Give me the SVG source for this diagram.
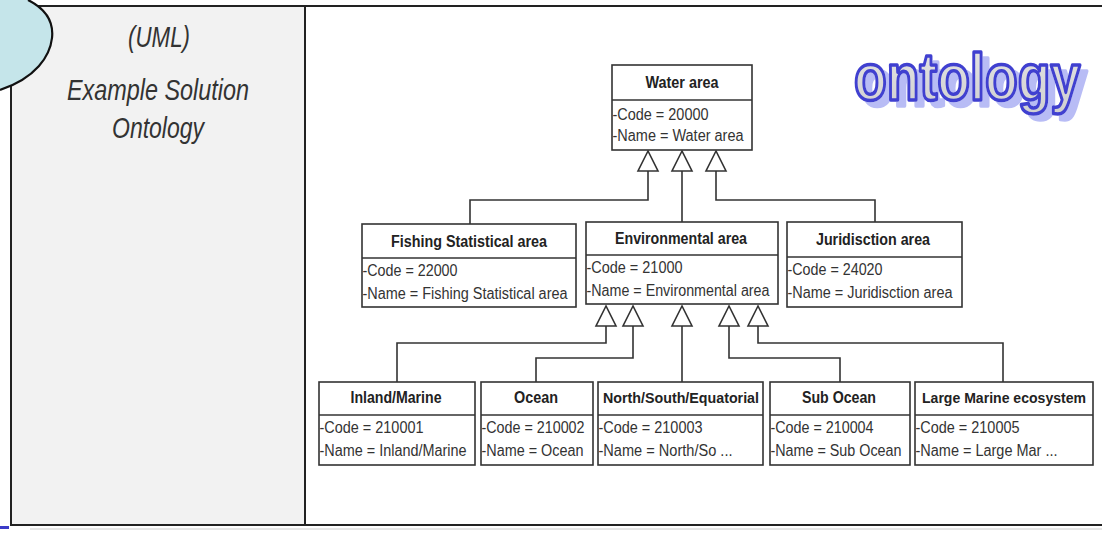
<svg xmlns="http://www.w3.org/2000/svg" width="1102" height="533" viewBox="0 0 1102 533">
  <defs>
    <style>
      .frame { fill: none; stroke: #222; stroke-width: 2; }
      .box { fill: #fff; stroke: #333; stroke-width: 1.6; }
      .sep { stroke: #333; stroke-width: 1.6; }
      .hdr { font-family: "Liberation Sans", Arial, sans-serif; font-weight: bold; font-size: 16px; fill: #222; text-anchor: middle; }
      .hdr.tight { font-size: 15px; }
      .att { font-family: "Liberation Sans", Arial, sans-serif; font-size: 16px; fill: #333; }
      .cap { font-family: "Liberation Sans", Arial, sans-serif; font-style: italic; font-size: 29px; fill: #333; text-anchor: middle; }
      .wire { fill: none; stroke: #333; stroke-width: 1.6; }
      .gen { fill: #fff; stroke: #333; stroke-width: 1.6; stroke-linejoin: miter; }
      .word { font-family: "Liberation Sans", Arial, sans-serif; font-weight: bold; font-size: 67px; fill: url(#word-fill); stroke: #3f3fd0; stroke-width: 3.6; stroke-linejoin: round; }
    </style>
    <linearGradient id="word-fill" x1="0" y1="0" x2="0" y2="1">
      <stop offset="0" stop-color="#e6e6e6"/>
      <stop offset="1" stop-color="#cfcfcf"/>
    </linearGradient>
    <filter id="word-shadow" x="-5%" y="-20%" width="115%" height="150%">
      <feOffset in="SourceAlpha" dx="7" dy="6" result="off"/>
      <feFlood flood-color="#b8bcf5"/>
      <feComposite in2="off" operator="in" result="sh"/>
      <feGaussianBlur in="sh" stdDeviation="0.6" result="shb"/>
      <feMerge>
        <feMergeNode in="shb"/>
        <feMergeNode in="SourceGraphic"/>
      </feMerge>
    </filter>
  </defs>

  <!-- table cells -->
  <rect x="0" y="0" width="1102" height="533" fill="#fff"/>
  <rect x="11" y="6" width="294" height="519" fill="#f2f2f2"/>
  <g id="table-lines">
    <line class="frame" x1="30" y1="6" x2="1102" y2="6"/>
    <line class="frame" x1="11" y1="60" x2="11" y2="526"/>
    <line class="frame" x1="305" y1="6" x2="305" y2="526"/>
    <line class="frame" x1="11" y1="525" x2="1102" y2="525" stroke-width="2.5"/>
    <line x1="30" y1="529" x2="1102" y2="529" stroke="#ccc" stroke-width="1"/>
  </g>
  <rect x="0" y="526" width="9" height="3" fill="#3c3cc8"/>

  <!-- corner callout -->
  <path id="callout" d="M0 0 L28 0 C44 8 54 20 52 38 C50 56 36 78 0 90 Z" fill="#c5e5ea" stroke="none"/>
  <path d="M28 0 C44 8 54 20 52 38 C50 56 36 78 0 90" fill="none" stroke="#111" stroke-width="2.2"/>

  <!-- left column caption -->
  <g id="caption">
    <text class="cap" x="159" y="47" textLength="62" lengthAdjust="spacingAndGlyphs">(UML)</text>
    <text class="cap" x="158" y="100" textLength="182" lengthAdjust="spacingAndGlyphs">Example Solution</text>
    <text class="cap" x="158" y="138" textLength="92" lengthAdjust="spacingAndGlyphs">Ontology</text>
  </g>

  <!-- word art title -->
  <g id="title" filter="url(#word-shadow)">
    <text class="word" transform="translate(854,100) scale(0.8,1)">ontology</text>
  </g>

  <!-- generalization connectors -->
  <g id="connectors">
    <path class="wire" d="M648 171 V200 H470 V224"/>
    <path class="wire" d="M682 171 V222"/>
    <path class="wire" d="M716 171 V200 H875 V222"/>
    <path class="gen" d="M648 151 L638 171 H658 Z"/>
    <path class="gen" d="M682 151 L672 171 H692 Z"/>
    <path class="gen" d="M716 151 L706 171 H726 Z"/>

    <path class="wire" d="M606 326 V343 H397 V382"/>
    <path class="wire" d="M633 326 V358 H536 V382"/>
    <path class="wire" d="M682 326 V382"/>
    <path class="wire" d="M729 326 V358 H840 V382"/>
    <path class="wire" d="M758 326 V343 H1003 V382"/>
    <path class="gen" d="M606 306 L596 326 H616 Z"/>
    <path class="gen" d="M633 306 L623 326 H643 Z"/>
    <path class="gen" d="M682 306 L672 326 H692 Z"/>
    <path class="gen" d="M729 306 L719 326 H739 Z"/>
    <path class="gen" d="M758 306 L748 326 H768 Z"/>
  </g>

  <!-- classes -->
  <g id="water-area">
    <rect class="box" x="612" y="65" width="140" height="85"/>
    <line class="sep" x1="612" y1="100" x2="752" y2="100"/>
    <text class="hdr" x="682" y="88" textLength="73" lengthAdjust="spacingAndGlyphs">Water area</text>
    <text class="att" x="612.5" y="120" textLength="96" lengthAdjust="spacingAndGlyphs">-Code = 20000</text>
    <text class="att" x="612.5" y="141" textLength="131" lengthAdjust="spacingAndGlyphs">-Name = Water area</text>
  </g>

  <g id="fishing-statistical-area">
    <rect class="box" x="362" y="224" width="214" height="83"/>
    <line class="sep" x1="362" y1="258" x2="576" y2="258"/>
    <text class="hdr" x="469" y="247" textLength="156" lengthAdjust="spacingAndGlyphs">Fishing Statistical area</text>
    <text class="att" x="362.5" y="276" textLength="95" lengthAdjust="spacingAndGlyphs">-Code = 22000</text>
    <text class="att" x="362.5" y="299" textLength="205" lengthAdjust="spacingAndGlyphs">-Name = Fishing Statistical area</text>
  </g>

  <g id="environmental-area">
    <rect class="box" x="586" y="222" width="192" height="82"/>
    <line class="sep" x1="586" y1="255" x2="778" y2="255"/>
    <text class="hdr" x="681" y="244" textLength="132" lengthAdjust="spacingAndGlyphs">Environmental area</text>
    <text class="att" x="586.5" y="273" textLength="96" lengthAdjust="spacingAndGlyphs">-Code = 21000</text>
    <text class="att" x="586.5" y="296" textLength="183" lengthAdjust="spacingAndGlyphs">-Name = Environmental area</text>
  </g>

  <g id="juridisction-area">
    <rect class="box" x="787" y="222" width="175" height="85"/>
    <line class="sep" x1="787" y1="257" x2="962" y2="257"/>
    <text class="hdr" x="873" y="245" textLength="114" lengthAdjust="spacingAndGlyphs">Juridisction area</text>
    <text class="att" x="787.5" y="275" textLength="95" lengthAdjust="spacingAndGlyphs">-Code = 24020</text>
    <text class="att" x="787.5" y="298" textLength="165" lengthAdjust="spacingAndGlyphs">-Name = Juridisction area</text>
  </g>

  <g id="inland-marine">
    <rect class="box" x="319" y="382" width="156" height="83"/>
    <line class="sep" x1="319" y1="415" x2="475" y2="415"/>
    <text class="hdr" x="396" y="403" textLength="91" lengthAdjust="spacingAndGlyphs">Inland/Marine</text>
    <text class="att" x="319.5" y="433" textLength="104" lengthAdjust="spacingAndGlyphs">-Code = 210001</text>
    <text class="att" x="319.5" y="456" textLength="147" lengthAdjust="spacingAndGlyphs">-Name = Inland/Marine</text>
  </g>

  <g id="ocean">
    <rect class="box" x="481" y="382" width="112" height="83"/>
    <line class="sep" x1="481" y1="415" x2="593" y2="415"/>
    <text class="hdr" x="536" y="403" textLength="44" lengthAdjust="spacingAndGlyphs">Ocean</text>
    <text class="att" x="481.5" y="433" textLength="103" lengthAdjust="spacingAndGlyphs">-Code = 210002</text>
    <text class="att" x="481.5" y="456" textLength="102" lengthAdjust="spacingAndGlyphs">-Name = Ocean</text>
  </g>

  <g id="north-south-equatorial">
    <rect class="box" x="598" y="382" width="165" height="83"/>
    <line class="sep" x1="598" y1="415" x2="763" y2="415"/>
    <text class="hdr tight" x="681" y="403" textLength="156" lengthAdjust="spacingAndGlyphs">North/South/Equatorial</text>
    <text class="att" x="598.5" y="433" textLength="104" lengthAdjust="spacingAndGlyphs">-Code = 210003</text>
    <text class="att" x="598.5" y="456" textLength="134" lengthAdjust="spacingAndGlyphs">-Name = North/So ...</text>
  </g>

  <g id="sub-ocean">
    <rect class="box" x="770" y="382" width="140" height="83"/>
    <line class="sep" x1="770" y1="415" x2="910" y2="415"/>
    <text class="hdr" x="839" y="403" textLength="74" lengthAdjust="spacingAndGlyphs">Sub Ocean</text>
    <text class="att" x="770.5" y="433" textLength="103" lengthAdjust="spacingAndGlyphs">-Code = 210004</text>
    <text class="att" x="770.5" y="456" textLength="131" lengthAdjust="spacingAndGlyphs">-Name = Sub Ocean</text>
  </g>

  <g id="large-marine-ecosystem">
    <rect class="box" x="915" y="382" width="178" height="83"/>
    <line class="sep" x1="915" y1="415" x2="1093" y2="415"/>
    <text class="hdr tight" x="1004" y="403" textLength="164" lengthAdjust="spacingAndGlyphs">Large Marine ecosystem</text>
    <text class="att" x="915.5" y="433" textLength="104" lengthAdjust="spacingAndGlyphs">-Code = 210005</text>
    <text class="att" x="915.5" y="456" textLength="142" lengthAdjust="spacingAndGlyphs">-Name = Large Mar ...</text>
  </g>
</svg>
